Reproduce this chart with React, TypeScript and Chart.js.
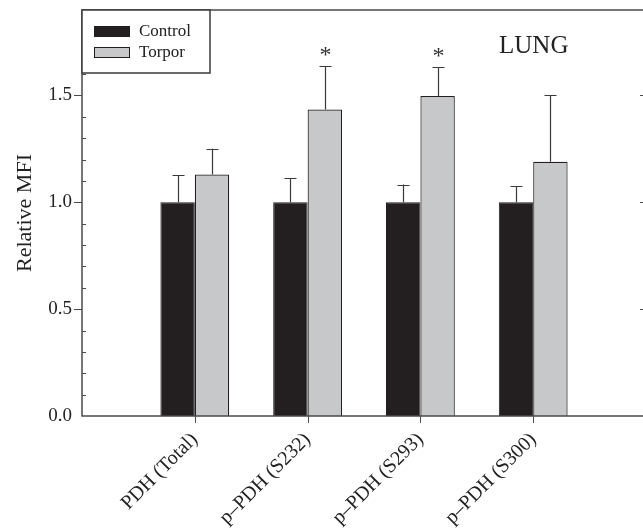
import React, { useEffect, useRef } from "react";
import { Chart, registerables } from "chart.js";

Chart.register(...registerables);

const categories = ["", "PDH (Total)", "p–PDH (S232)", "p–PDH (S293)", "p–PDH (S300)", ""];
const controlValues = [null, 1.0, 1.0, 1.0, 1.0, null];
const controlErrors = [null, 0.126, 0.113, 0.083, 0.076, null];
const torporValues = [null, 1.13, 1.434, 1.497, 1.19, null];
const torporErrors = [null, 0.121, 0.202, 0.135, 0.31, null];
const significant = [false, false, true, true, false, false];
const yMajorTicks = [0, 0.5, 1.0, 1.5];
const yMinorTicks = [0.1, 0.2, 0.3, 0.4, 0.6, 0.7, 0.8, 0.9, 1.1, 1.2, 1.3, 1.4, 1.6, 1.7, 1.8];
const panelTitle = "LUNG";
const yTitle = "Relative MFI";

const FONT = "'Liberation Serif', 'Times New Roman', serif";
const AXIS_COLOR = "#4a4a4a";
const DARK = "#231f20";
const GRAY = "#c7c8ca";

const framePlugin = {
  id: "frame",
  afterDatasetsDraw(chart: any) {
    const { ctx, chartArea } = chart;
    const { left, right, top, bottom } = chartArea;
    const y = chart.scales.y;
    const x = chart.scales.x;
    ctx.save();
    // error bars
    ctx.strokeStyle = "#3a3a3a";
    ctx.lineWidth = 1.2;
    chart.data.datasets.forEach((ds: any, di: number) => {
      const meta = chart.getDatasetMeta(di);
      meta.data.forEach((el: any, i: number) => {
        const v = ds.data[i];
        const e = ds.errors ? ds.errors[i] : null;
        if (v == null || e == null) return;
        const yTop = y.getPixelForValue(v + e);
        const cx = Math.round(el.x) + 0.5;
        ctx.beginPath();
        ctx.moveTo(cx, el.y);
        ctx.lineTo(cx, yTop);
        ctx.moveTo(cx - 6, Math.round(yTop) + 0.5);
        ctx.lineTo(cx + 6, Math.round(yTop) + 0.5);
        ctx.stroke();
        if (di === 1 && significant[i]) {
          ctx.fillStyle = "#333";
          ctx.font = `24px ${FONT}`;
          ctx.textAlign = "center";
          ctx.textBaseline = "alphabetic";
          ctx.fillText("*", cx, yTop - 4);
        }
      });
    });
    // frame
    ctx.strokeStyle = AXIS_COLOR;
    ctx.lineWidth = 1.5;
    ctx.strokeRect(left, top, right - left, bottom - top);
    // y ticks
    ctx.lineWidth = 1;
    ctx.beginPath();
    yMajorTicks.forEach((v) => {
      const py = Math.round(y.getPixelForValue(v)) + 0.5;
      if (v > 0) {
        ctx.moveTo(left - 8, py);
        ctx.lineTo(left, py);
        ctx.moveTo(right - 6, py);
        ctx.lineTo(right, py);
      }
    });
    yMinorTicks.forEach((v) => {
      const py = Math.round(y.getPixelForValue(v)) + 0.5;
      ctx.moveTo(left, py);
      ctx.lineTo(left + 4, py);
    });
    // x ticks
    categories.forEach((c, i) => {
      if (!c) return;
      const px = Math.round(x.getPixelForValue(i)) + 0.5;
      ctx.moveTo(px, bottom);
      ctx.lineTo(px, bottom + 7);
    });
    ctx.stroke();
    // legend
    const lx = left, ly = top;
    ctx.fillStyle = "#fff";
    ctx.fillRect(lx, ly, 128, 63);
    ctx.strokeStyle = "#3a3a3a";
    ctx.lineWidth = 1.5;
    ctx.strokeRect(lx, ly, 128, 63);
    chart.data.datasets.forEach((ds: any, di: number) => {
      const sy = ly + 16 + di * 21;
      ctx.fillStyle = ds.backgroundColor;
      ctx.fillRect(lx + 12, sy, 36, 11);
      ctx.strokeStyle = DARK;
      ctx.lineWidth = 1;
      ctx.strokeRect(lx + 12.5, sy + 0.5, 35, 10);
      ctx.fillStyle = "#222";
      ctx.font = `17px ${FONT}`;
      ctx.textAlign = "left";
      ctx.textBaseline = "middle";
      ctx.fillText(ds.label, lx + 57, sy + 6);
    });
    // panel title
    ctx.fillStyle = "#222";
    ctx.font = `25px ${FONT}`;
    ctx.textAlign = "left";
    ctx.textBaseline = "alphabetic";
    ctx.fillText(panelTitle, 499, 53);
    ctx.restore();
  },
};

const zeroPad = (s: any) => {
  s.paddingTop = 0;
  s.paddingBottom = 0;
  s.paddingLeft = 0;
  s.paddingRight = 0;
};

export default function App() {
  const ref = useRef<HTMLCanvasElement>(null);
  useEffect(() => {
    if (!ref.current) return;
    const chart = new Chart(ref.current, {
      type: "bar",
      data: {
        labels: categories,
        datasets: [
          {
            label: "Control",
            data: controlValues as any,
            errors: controlErrors,
            backgroundColor: DARK,
            borderColor: DARK,
            borderWidth: 1,
          } as any,
          {
            label: "Torpor",
            data: torporValues as any,
            errors: torporErrors,
            backgroundColor: GRAY,
            borderColor: DARK,
            borderWidth: 1.2,
          } as any,
        ],
      },
      options: {
        animation: false,
        responsive: false,
        devicePixelRatio: 1,
        layout: { padding: { top: 10, right: 14, left: 0, bottom: 0 } },
        datasets: { bar: { categoryPercentage: 0.61, barPercentage: 1.0 } },
        plugins: { legend: { display: false }, tooltip: { enabled: false } },
        scales: {
          x: {
            type: "category",
            offset: false,
            grid: { display: false, drawTicks: false },
            border: { display: false },
            afterFit: (s: any) => {
              s.height = 112;
              zeroPad(s);
            },
            ticks: {
              autoSkip: false,
              minRotation: 45,
              maxRotation: 45,
              padding: 12,
              color: "#222",
              font: { family: FONT, size: 20 },
            },
          },
          y: {
            min: 0,
            max: 1.9,
            grid: { display: false, drawTicks: false },
            border: { display: false },
            afterFit: (s: any) => {
              s.width = 82;
              zeroPad(s);
            },
            afterBuildTicks: (s: any) => {
              s.ticks = yMajorTicks.map((v) => ({ value: v }));
            },
            ticks: {
              padding: 10,
              color: "#222",
              font: { family: FONT, size: 19 },
              callback: (v: any) => Number(v).toFixed(1),
            },
            title: {
              display: true,
              text: yTitle,
              color: "#222",
              font: { family: FONT, size: 22 },
              padding: { top: 12, bottom: 0 },
            },
          },
        },
      } as any,
      plugins: [framePlugin],
    });
    return () => chart.destroy();
  }, []);
  return (
    <div
      style={{
        position: "fixed",
        left: 0,
        top: 0,
        width: 643,
        height: 528,
        overflow: "hidden",
        background: "#fff",
      }}
    >
      <canvas ref={ref} width={660} height={528} style={{ width: 660, height: 528, display: "block" }} />
    </div>
  );
}
